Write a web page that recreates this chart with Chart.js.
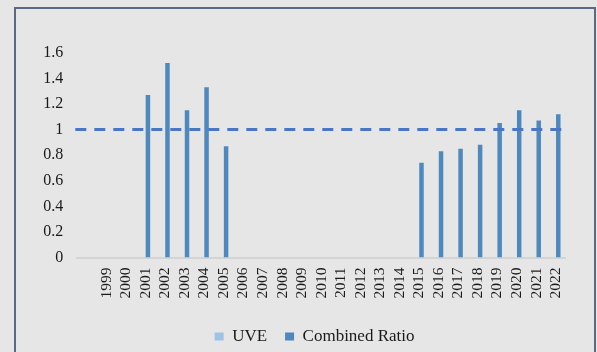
<!DOCTYPE html>
<html>
<head>
<meta charset="utf-8">
<script src="https://cdn.jsdelivr.net/npm/chart.js@4/dist/chart.umd.min.js"></script>
<style>
  html, body { margin: 0; padding: 0; background: #e6e6e6; }
  body { width: 597px; height: 352px; position: relative; overflow: hidden; }
  #frame {
    position: absolute; left: 14px; top: 7px; width: 582px; height: 400px;
    border: 2px solid #5b6a84; box-sizing: border-box;
  }
  #wrap { position: absolute; left: 30px; top: 0; width: 567px; height: 355px; }
</style>
</head>
<body>
<div id="frame"></div>
<div id="wrap"><canvas id="c" width="567" height="355"></canvas></div>
<script>
// Category labels (first slot is an unlabelled spacer category)
const years = ['', '1999', '2000', '2001', '2002', '2003', '2004', '2005', '2006', '2007',
  '2008', '2009', '2010', '2011', '2012', '2013', '2014', '2015', '2016', '2017',
  '2018', '2019', '2020', '2021', '2022'];

// UVE has no plotted values
const uve = [null, null, null, null, null, null, null, null, null, null, null, null, null,
  null, null, null, null, null, null, null, null, null, null, null, null];

const combinedRatio = [null, null, null, 1.27, 1.52, 1.15, 1.33, 0.87,
  null, null, null, null, null, null, null, null, null,
  0.74, 0.83, 0.85, 0.88, 1.05, 1.15, 1.07, 1.12];

// Break-even reference level
const breakEven = 1;

const yTicks = [0, 0.2, 0.4, 0.6, 0.8, 1, 1.2, 1.4, 1.6];

const FONT = 'Liberation Serif';

// Dashed horizontal line at the break-even level, across the plot
const refLine = {
  id: 'refLine',
  afterDatasetsDraw(chart) {
    const { ctx, chartArea, scales } = chart;
    const y = scales.y.getPixelForValue(breakEven);
    ctx.save();
    ctx.strokeStyle = '#4a76c6';
    ctx.lineWidth = 3;
    ctx.setLineDash([11, 8]);
    ctx.beginPath();
    ctx.moveTo(chartArea.left - 2, y);
    ctx.lineTo(chartArea.right + 3, y);
    ctx.stroke();
    ctx.restore();
  }
};

// Nudge the legend row slightly to the left
const legendNudge = {
  id: 'legendNudge',
  afterLayout(chart) {
    if (chart.legend) {
      chart.legend.left -= 7;
      chart.legend.right -= 7;
    }
  }
};

new Chart(document.getElementById('c'), {
  type: 'bar',
  data: {
    labels: years,
    datasets: [
      { label: 'UVE', data: uve, backgroundColor: '#9dc3e6',
        categoryPercentage: 0.46, barPercentage: 1 },
      { label: 'Combined Ratio', data: combinedRatio, backgroundColor: '#4e88bd',
        categoryPercentage: 0.46, barPercentage: 1 }
    ]
  },
  options: {
    responsive: false,
    animation: false,
    layout: { padding: { top: 52.7, right: 31.2, bottom: 0, left: 0 } },
    plugins: {
      tooltip: { enabled: false },
      legend: {
        position: 'bottom',
        fullSize: false,
        labels: {
          font: { family: FONT, size: 17 },
          color: '#1a1a1a',
          boxWidth: 9,
          boxHeight: 8,
          padding: 18
        }
      }
    },
    scales: {
      x: {
        grid: { display: false, drawTicks: false },
        border: { display: true, color: '#d4d4d4', width: 2 },
        ticks: {
          autoSkip: false, maxRotation: 90, minRotation: 90, padding: 10,
          font: { family: FONT, size: 15.5 }, color: '#1a1a1a'
        },
        afterFit(scale) { scale.height = 52.5; }
      },
      y: {
        min: 0, max: 1.6,
        grid: { display: false, drawTicks: false },
        border: { display: false },
        afterBuildTicks(scale) { scale.ticks = yTicks.map(v => ({ value: v })); },
        ticks: {
          padding: 14,
          font: { family: FONT, size: 16 }, color: '#1a1a1a',
          callback: v => String(v)
        },
        afterFit(scale) { scale.width = 47.3; }
      }
    }
  },
  plugins: [refLine, legendNudge]
});
</script>
</body>
</html>
